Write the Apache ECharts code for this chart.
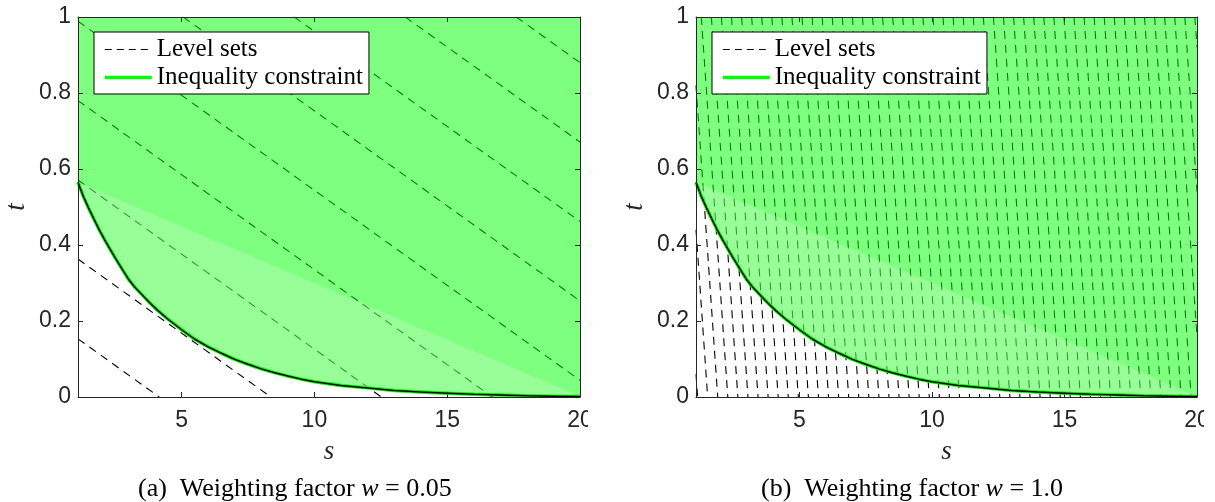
<!DOCTYPE html>
<html>
<head>
<meta charset="utf-8">
<script src="https://cdn.jsdelivr.net/npm/echarts@6/dist/echarts.min.js"></script>
<style>
  html, body { margin: 0; padding: 0; background: #ffffff; }
  #chart { width: 1215px; height: 502px; }
</style>
</head>
<body>
<div id="chart"></div>
<script>
// Axis ranges and ticks
const S_MIN = 1.1;
const S_MAX = 20;
const sTicks = [5, 10, 15, 20];
const T_MIN = 0;
const T_MAX = 1;

// Boundary of the inequality constraint t(s)
const constraintS = [1.1, 1.3, 1.5, 1.7, 1.9, 2.1, 2.3, 2.5, 2.75, 3.0, 3.25, 3.5, 3.8, 4.1, 4.5,
  5.0, 5.5, 6.0, 6.5, 7.0, 7.5, 8.0, 8.5, 9.0, 9.5, 10, 11, 12, 13, 14, 15, 16, 17, 18, 19, 20];
const constraintT = [0.565, 0.528, 0.497, 0.468, 0.44, 0.414, 0.39, 0.366, 0.338, 0.31, 0.288, 0.27, 0.248, 0.228, 0.204,
  0.177, 0.152, 0.132, 0.115, 0.099, 0.086, 0.074, 0.064, 0.055, 0.047, 0.04, 0.03, 0.024, 0.017, 0.013, 0.01, 0.007, 0.005, 0.003, 0.002, 0.001];

// Weighting factors of the objective f(s,t) = w*s + t
const weights = [0.05, 1.0];

// Contour levels of the objective for each weighting factor
const levelsA = [0.208, 0.418, 0.626, 0.835, 1.044, 1.253, 1.462, 1.671, 1.880];
const levelsB = [1.16, 1.54, 1.92, 2.30, 2.68, 3.06, 3.44, 3.82, 4.20, 4.58, 4.96, 5.34, 5.72, 6.10,
  6.48, 6.86, 7.24, 7.62, 8.00, 8.38, 8.76, 9.14, 9.52, 9.90, 10.28, 10.66, 11.04, 11.42, 11.80,
  12.18, 12.56, 12.94, 13.32, 13.70, 14.08, 14.46, 14.84, 15.22, 15.60, 15.98, 16.36, 16.74,
  17.12, 17.50, 17.88, 18.26, 18.64, 19.02, 19.40, 19.78, 20.16, 20.54, 20.92];

const captions = ['(a)', '(b)'];
const weightLabels = ['0.05', '1.0'];

// Each level line w*s + t = c, cut to the plotting box; '-' breaks the polyline
function levelLines(levels, w) {
  const out = [];
  levels.forEach(function (c) {
    const s0 = Math.max(S_MIN, (c - T_MAX) / w);
    const s1 = Math.min(S_MAX, (c - T_MIN) / w);
    if (s1 <= s0) return;
    out.push([s0, c - w * s0], [s1, c - w * s1], '-');
  });
  return out;
}

const curvePoints = constraintS.map(function (s, i) { return [s, constraintT[i]]; });

// Polygon renderer: feasible region (above the curve) or the curve's own closed patch
function polygonRenderer(withTop, fill) {
  return function (params, api) {
    if (params.dataIndex !== 0) return null;
    const pts = curvePoints.map(function (p) { return api.coord(p); });
    if (withTop) {
      pts.push(api.coord([S_MAX, T_MAX]));
      pts.push(api.coord([S_MIN, T_MAX]));
    }
    return { type: 'polygon', shape: { points: pts }, style: { fill: fill, stroke: null } };
  };
}

const INK = '#262626';
const SANS = 'Liberation Sans';
const SERIF = 'Liberation Serif';

const gridDefs = [
  { left: 78, top: 17, width: 502, height: 380, outerBoundsMode: 'none', containLabel: false },
  { left: 696, top: 17, width: 501, height: 380, outerBoundsMode: 'none', containLabel: false }
];

const xAxes = [], yAxes = [], series = [], titles = [], legends = [];

gridDefs.forEach(function (g, gi) {
  const w = weights[gi];
  // bottom and top s axes
  xAxes.push({
    gridIndex: gi, type: 'value', position: 'bottom', min: S_MIN, max: S_MAX, z: 10,
    axisLine: { onZero: false, lineStyle: { color: INK, width: 1 } },
    axisTick: { inside: true, length: 5, customValues: sTicks, lineStyle: { color: INK } },
    axisLabel: { customValues: sTicks, margin: 12, color: INK, fontFamily: SANS, fontSize: 23 },
    splitLine: { show: false },
    name: 's', nameLocation: 'middle', nameGap: 41,
    nameTextStyle: { fontFamily: SERIF, fontStyle: 'italic', fontSize: 27, color: INK }
  });
  xAxes.push({
    gridIndex: gi, type: 'value', position: 'top', min: S_MIN, max: S_MAX, z: 10,
    axisLine: { onZero: false, lineStyle: { color: INK, width: 1 } },
    axisTick: { inside: true, length: 5, customValues: sTicks, lineStyle: { color: INK } },
    axisLabel: { show: false }, splitLine: { show: false }
  });
  // left and right t axes
  yAxes.push({
    gridIndex: gi, type: 'value', position: 'left', min: T_MIN, max: T_MAX, interval: 0.2, z: 10,
    axisLine: { show: true, onZero: false, lineStyle: { color: INK, width: 1 } },
    axisTick: { show: true, inside: true, length: 5, lineStyle: { color: INK } },
    axisLabel: { margin: 7, color: INK, fontFamily: SANS, fontSize: 23 },
    splitLine: { show: false },
    name: 't', nameLocation: 'middle', nameGap: 48,
    nameTextStyle: { fontFamily: SERIF, fontStyle: 'italic', fontSize: 27, color: INK }
  });
  yAxes.push({
    gridIndex: gi, type: 'value', position: 'right', min: T_MIN, max: T_MAX, interval: 0.2, z: 10,
    axisLine: { show: true, onZero: false, lineStyle: { color: INK, width: 1 } },
    axisTick: { show: true, inside: true, length: 5, lineStyle: { color: INK } },
    axisLabel: { show: false }, splitLine: { show: false }
  });

  const xi = gi * 2, yi = gi * 2;

  series.push({
    name: 'Level sets', type: 'line', xAxisIndex: xi, yAxisIndex: yi, z: 1,
    data: levelLines(gi === 0 ? levelsA : levelsB, w),
    symbol: 'none', silent: true, clip: true, connectNulls: false,
    itemStyle: { color: '#000000' },
    lineStyle: { color: '#000000', width: 1.1, type: [8, 6] }
  });
  series.push({
    name: 'feasible', type: 'custom', xAxisIndex: xi, yAxisIndex: yi, z: 2, silent: true,
    data: [[S_MIN, T_MAX]], renderItem: polygonRenderer(true, 'rgba(0,255,0,0.5)')
  });
  series.push({
    name: 'patch', type: 'custom', xAxisIndex: xi, yAxisIndex: yi, z: 3, silent: true,
    data: [[S_MIN, T_MAX]], renderItem: polygonRenderer(false, 'rgba(255,255,255,0.2)')
  });
  series.push({
    name: 'Inequality constraint', type: 'line', xAxisIndex: xi, yAxisIndex: yi, z: 4,
    data: curvePoints, symbol: 'none', silent: true,
    itemStyle: { color: '#00ff00' },
    lineStyle: { color: '#00ff00', width: 3.5 }
  });
  series.push({
    name: 'boundary', type: 'line', xAxisIndex: xi, yAxisIndex: yi, z: 5,
    data: curvePoints, symbol: 'none', silent: true,
    lineStyle: { color: '#000000', width: 1.5 }
  });

  legends.push({
    data: [
      { name: 'Level sets', lineStyle: { width: 1.1, type: [7, 5] } },
      { name: 'Inequality constraint', lineStyle: { width: 3.5, type: 'solid' } }
    ],
    orient: 'vertical', left: g.left + 16, top: 32, z: 20,
    backgroundColor: '#ffffff', borderColor: '#000000', borderWidth: 1, borderRadius: 0,
    padding: [5, 6, 4, 9], itemGap: 3, itemWidth: 47, itemHeight: 14,
    selectedMode: false,
    itemStyle: { opacity: 0, borderWidth: 0 },
    textStyle: { fontFamily: SERIF, fontSize: 25, color: '#000000' }
  });

  titles.push({
    text: captions[gi] + '  Weighting factor {i|w} = ' + weightLabels[gi],
    left: gi === 0 ? 138 : 761, top: 476, padding: 0,
    textStyle: {
      fontFamily: SERIF, fontSize: 26, fontWeight: 'normal', color: '#000000',
      rich: { i: { fontFamily: SERIF, fontSize: 26, fontStyle: 'italic', color: '#000000' } }
    }
  });
});

const chart = echarts.init(document.getElementById('chart'), null, { renderer: 'canvas' });
chart.setOption({
  animation: false,
  backgroundColor: '#ffffff',
  title: titles,
  legend: legends,
  grid: gridDefs,
  xAxis: xAxes,
  yAxis: yAxes,
  series: series,
  graphic: [
    { type: 'rect', z: 100, shape: { x: 588, y: 404, width: 22, height: 36 }, style: { fill: '#ffffff' } },
    { type: 'rect', z: 100, shape: { x: 1204, y: 404, width: 11, height: 36 }, style: { fill: '#ffffff' } }
  ]
});
</script>
</body>
</html>
